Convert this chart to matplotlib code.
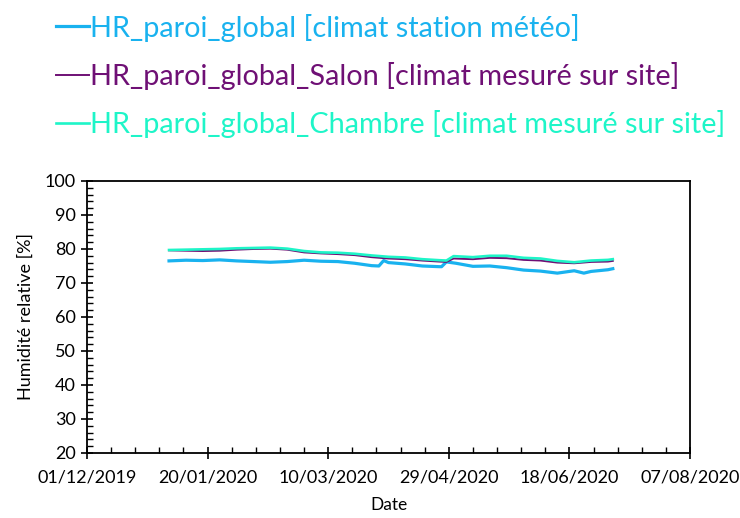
import numpy as np
import pandas as pd
import matplotlib
matplotlib.use("Agg")
import matplotlib.pyplot as plt
import matplotlib.dates as mdates
from matplotlib.ticker import MultipleLocator, FixedLocator

plt.rcParams['font.family'] = ['Lato', 'DejaVu Sans']

# dates
dates_meteo = ['2020-01-04', '2020-01-11', '2020-01-18', '2020-01-25', '2020-02-01',
               '2020-02-08', '2020-02-15', '2020-02-22', '2020-02-29', '2020-03-07',
               '2020-03-14', '2020-03-21', '2020-03-28', '2020-03-31', '2020-04-02',
               '2020-04-04', '2020-04-11', '2020-04-18', '2020-04-25', '2020-04-26',
               '2020-04-28', '2020-05-02', '2020-05-09', '2020-05-16', '2020-05-23',
               '2020-05-30', '2020-06-06', '2020-06-13', '2020-06-20', '2020-06-24',
               '2020-06-27', '2020-07-04', '2020-07-06']
hr_meteo = [76.5, 76.7, 76.6, 76.8, 76.5, 76.3, 76.1, 76.3, 76.7, 76.4,
            76.3, 75.8, 75.1, 75.0, 76.6, 76.0, 75.6, 75.0, 74.8, 74.8,
            76.2, 75.8, 74.9, 75.0, 74.5, 73.8, 73.5, 72.9, 73.6, 72.9,
            73.4, 73.9, 74.2]

dates_site = ['2020-01-04', '2020-01-11', '2020-01-18', '2020-01-25', '2020-02-01',
              '2020-02-08', '2020-02-15', '2020-02-22', '2020-02-29', '2020-03-07',
              '2020-03-14', '2020-03-21', '2020-03-28', '2020-04-04', '2020-04-11',
              '2020-04-18', '2020-04-25', '2020-04-28', '2020-05-01', '2020-05-09',
              '2020-05-16', '2020-05-23', '2020-05-30', '2020-06-06', '2020-06-13',
              '2020-06-20', '2020-06-27', '2020-07-04', '2020-07-06']
hr_salon = [79.6, 79.5, 79.4, 79.5, 79.8, 80.0, 80.1, 79.8, 79.0, 78.7,
            78.5, 78.2, 77.6, 77.2, 77.0, 76.6, 76.3, 76.2, 77.2, 77.0,
            77.4, 77.3, 76.8, 76.6, 76.0, 75.8, 76.2, 76.3, 76.5]
hr_chambre = [79.7, 79.8, 79.9, 80.0, 80.2, 80.3, 80.4, 80.1, 79.4, 79.0,
              78.9, 78.6, 78.1, 77.7, 77.5, 77.0, 76.7, 76.6, 77.9, 77.6,
              78.0, 78.0, 77.4, 77.2, 76.5, 76.1, 76.6, 76.8, 77.0]

labels = ['HR_paroi_global [climat station météo]',
          'HR_paroi_global_Salon [climat mesuré sur site]',
          'HR_paroi_global_Chambre [climat mesuré sur site]']
colors = ['#19b2ef', '#6f1075', '#1ef5c8']

fig = plt.figure(figsize=(7.4, 5.18), dpi=100)
ax = fig.add_axes([0.1176, 0.1255, 0.8148, 0.5251])

d_meteo = pd.to_datetime(dates_meteo)
d_site = pd.to_datetime(dates_site)
ax.plot(d_meteo, hr_meteo, color=colors[0], lw=2.3, label=labels[0])
ax.plot(d_site, hr_salon, color=colors[1], lw=1.4, label=labels[1])
ax.plot(d_site, hr_chambre, color=colors[2], lw=1.9, label=labels[2])

x0 = pd.Timestamp('2019-12-01')
x1 = pd.Timestamp('2020-08-07')
ax.set_xlim(x0, x1)
ax.set_ylim(20, 100)

major = pd.date_range(x0, x1, freq='50D')
minor = pd.date_range(x0, x1, freq='10D')
ax.xaxis.set_major_locator(FixedLocator(mdates.date2num(major)))
ax.xaxis.set_minor_locator(FixedLocator(mdates.date2num(minor)))
ax.xaxis.set_major_formatter(mdates.DateFormatter('%d/%m/%Y'))
ax.yaxis.set_major_locator(MultipleLocator(10))
ax.yaxis.set_minor_locator(MultipleLocator(2))

ax.tick_params(which='major', direction='inout', length=8, width=1.2,
               labelsize=13, colors='black', pad=4)
ax.tick_params(axis='x', which='major', pad=8)
ax.tick_params(which='minor', direction='in', length=4, width=1.0)
for s in ax.spines.values():
    s.set_linewidth(1.3)

ax.set_xlabel('Date', fontsize=12.5, labelpad=8)
ax.set_ylabel('Humidité relative [%]', fontsize=13, labelpad=8)

leg = fig.legend(loc='upper left', bbox_to_anchor=(0.04, 1.024), frameon=False,
                 fontsize=20.8, handlelength=1.14, handletextpad=0.05,
                 labelspacing=0.7, labelcolor='linecolor')

fig.savefig('out.png', dpi=100)
